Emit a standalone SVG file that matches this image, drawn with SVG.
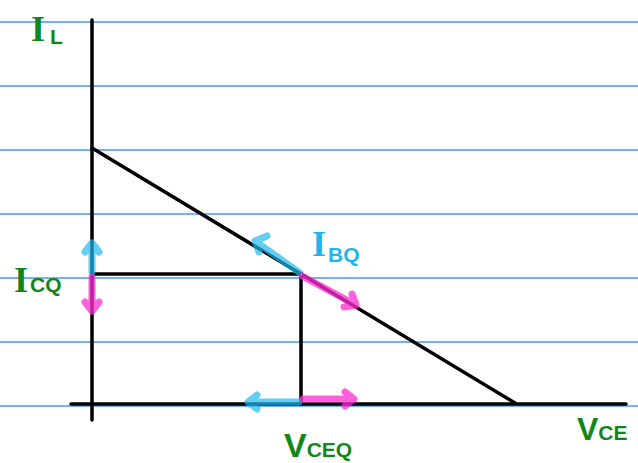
<svg xmlns="http://www.w3.org/2000/svg" width="638" height="463" viewBox="0 0 638 463">
<style>
.rule{stroke:#3d9cff;stroke-width:1.5}
.ink{stroke:#000;stroke-width:3.5;fill:none;stroke-linecap:round}
.cy{stroke:#22b8f0;stroke-width:7;fill:none;stroke-linecap:round;stroke-linejoin:round;opacity:0.7}
.mg{stroke:#ff2bd0;stroke-width:7;fill:none;stroke-linecap:round;stroke-linejoin:round;opacity:0.75}
.g{fill:#13861a;font-family:"Liberation Sans",sans-serif;font-weight:bold}
.c{fill:#1fb4ee;font-family:"Liberation Sans",sans-serif;font-weight:bold}
.big{font-family:"Liberation Serif",serif;font-size:36px}
.sub{font-size:21px}
</style>
<rect width="638" height="463" fill="#fff"/>
<g id="rules">
<line class="rule" x1="0" y1="22" x2="638" y2="22"/>
<line class="rule" x1="0" y1="86" x2="638" y2="86"/>
<line class="rule" x1="0" y1="150" x2="638" y2="150"/>
<line class="rule" x1="0" y1="214" x2="638" y2="214"/>
<line class="rule" x1="0" y1="278" x2="638" y2="278"/>
<line class="rule" x1="0" y1="342" x2="638" y2="342"/>
<line class="rule" x1="0" y1="406" x2="638" y2="406"/>
</g>
<g id="connectors">
<line class="ink" x1="92" y1="20" x2="92" y2="420"/>
<line class="ink" x1="71" y1="404" x2="626" y2="404"/>
<line class="ink" x1="92" y1="148" x2="515" y2="403"/>
<polyline class="ink" points="93,274 301,274 301,404"/>
</g>
<g id="arrows-icq">
<path class="cy" d="M92,272 V244 M85,252 L92,243 L99,252"/>
<path class="mg" d="M92,277 V310 M85,302 L92,311 L99,302"/>
</g>
<g id="arrows-ibq">
<path class="cy" d="M300,273 L255,241 M259,252 L255,241 L267,236"/>
<path class="mg" d="M302,276 L356,305 M352,294 L356,305 L344,307"/>
</g>
<g id="arrows-vceq">
<path class="cy" d="M299,402 H249 M257,395 L248,402 L257,409"/>
<path class="mg" d="M303,399 H353 M345,392 L354,399 L345,406"/>
</g>
<g id="label-il"><text class="g" x="31" y="41"><tspan class="big">I</tspan><tspan class="sub" dx="5" dy="3">L</tspan></text></g>
<g id="label-icq"><text class="g" x="14" y="292"><tspan class="big">I</tspan><tspan class="sub" dx="2">CQ</tspan></text></g>
<g id="label-ibq"><text class="c" x="312" y="256"><tspan class="big">I</tspan><tspan class="sub" dx="2" dy="6">BQ</tspan></text></g>
<g id="label-vceq"><text class="g" x="284" y="457"><tspan style="font-size:34px">V</tspan><tspan class="sub">CEQ</tspan></text></g>
<g id="label-vce"><text class="g" x="577" y="440"><tspan style="font-size:32px">V</tspan><tspan class="sub">CE</tspan></text></g>
</svg>
